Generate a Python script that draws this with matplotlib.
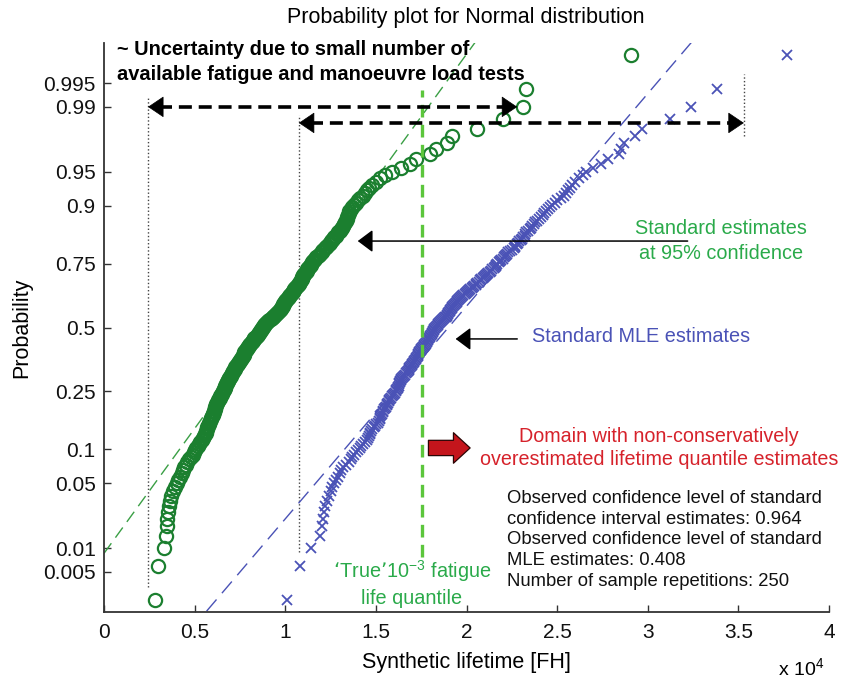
import numpy as np
import matplotlib
matplotlib.use('Agg')
import matplotlib.pyplot as plt
from matplotlib.ticker import NullLocator
from statistics import NormalDist

plt.rcParams['font.family'] = ['Liberation Sans', 'DejaVu Sans']
plt.rcParams['mathtext.default'] = 'regular'

W, H = 844, 682

# ── DATA (synthetic lifetime, x 10^4 FH, sorted) ────────────────────────
conf_est = [
    0.28, 0.30, 0.33, 0.34, 0.345, 0.35, 0.355, 0.36, 0.365, 0.37,
    0.38, 0.39, 0.40, 0.41, 0.42, 0.43, 0.435, 0.44, 0.45, 0.46,
    0.47, 0.48, 0.49, 0.495, 0.50, 0.51, 0.52, 0.525, 0.53, 0.54,
    0.545, 0.55, 0.555, 0.56, 0.565, 0.57, 0.57, 0.575, 0.58, 0.58,
    0.585, 0.59, 0.59, 0.595, 0.60, 0.60, 0.605, 0.605, 0.61, 0.61,
    0.615, 0.62, 0.62, 0.625, 0.63, 0.63, 0.635, 0.64, 0.64, 0.645,
    0.65, 0.65, 0.655, 0.66, 0.66, 0.665, 0.67, 0.67, 0.675, 0.68,
    0.68, 0.685, 0.685, 0.69, 0.69, 0.695, 0.70, 0.70, 0.705, 0.71,
    0.71, 0.715, 0.72, 0.72, 0.725, 0.73, 0.735, 0.74, 0.74, 0.745,
    0.75, 0.75, 0.755, 0.76, 0.76, 0.765, 0.77, 0.77, 0.775, 0.775,
    0.78, 0.785, 0.79, 0.79, 0.795, 0.80, 0.80, 0.805, 0.81, 0.815,
    0.82, 0.82, 0.825, 0.83, 0.835, 0.84, 0.845, 0.85, 0.85, 0.855,
    0.86, 0.86, 0.865, 0.87, 0.87, 0.875, 0.88, 0.885, 0.89, 0.895,
    0.90, 0.905, 0.91, 0.92, 0.925, 0.93, 0.935, 0.94, 0.945, 0.95,
    0.955, 0.96, 0.965, 0.97, 0.975, 0.975, 0.98, 0.985, 0.985, 0.99,
    0.995, 1.00, 1.00, 1.005, 1.01, 1.015, 1.02, 1.02, 1.025, 1.03,
    1.035, 1.04, 1.045, 1.05, 1.05, 1.055, 1.06, 1.065, 1.07, 1.075,
    1.075, 1.08, 1.085, 1.09, 1.09, 1.095, 1.10, 1.10, 1.105, 1.11,
    1.115, 1.12, 1.12, 1.125, 1.13, 1.135, 1.14, 1.14, 1.15, 1.155,
    1.16, 1.165, 1.17, 1.18, 1.185, 1.19, 1.20, 1.205, 1.21, 1.22,
    1.225, 1.23, 1.24, 1.245, 1.25, 1.26, 1.265, 1.27, 1.28, 1.285,
    1.29, 1.30, 1.31, 1.315, 1.32, 1.325, 1.33, 1.335, 1.34, 1.34,
    1.345, 1.35, 1.35, 1.36, 1.37, 1.38, 1.39, 1.40, 1.41, 1.43,
    1.44, 1.45, 1.46, 1.48, 1.50, 1.52, 1.55, 1.59, 1.64, 1.69,
    1.72, 1.80, 1.83, 1.89, 1.92, 2.06, 2.20, 2.31, 2.33, 2.91,
]
mle_est = [
    1.01, 1.08, 1.14, 1.19, 1.20, 1.21, 1.215, 1.22, 1.23, 1.24,
    1.25, 1.26, 1.27, 1.28, 1.29, 1.30, 1.31, 1.32, 1.335, 1.35,
    1.36, 1.37, 1.38, 1.39, 1.40, 1.41, 1.42, 1.43, 1.44, 1.45,
    1.455, 1.46, 1.465, 1.47, 1.475, 1.48, 1.49, 1.495, 1.50, 1.51,
    1.515, 1.52, 1.52, 1.525, 1.53, 1.535, 1.54, 1.54, 1.545, 1.55,
    1.555, 1.56, 1.56, 1.565, 1.57, 1.575, 1.58, 1.585, 1.59, 1.595,
    1.60, 1.605, 1.61, 1.61, 1.615, 1.62, 1.62, 1.625, 1.63, 1.63,
    1.635, 1.635, 1.64, 1.64, 1.645, 1.65, 1.655, 1.66, 1.665, 1.67,
    1.675, 1.68, 1.68, 1.685, 1.69, 1.695, 1.70, 1.70, 1.705, 1.71,
    1.71, 1.715, 1.72, 1.72, 1.725, 1.73, 1.73, 1.735, 1.74, 1.74,
    1.745, 1.75, 1.75, 1.755, 1.76, 1.765, 1.765, 1.77, 1.775, 1.78,
    1.78, 1.785, 1.79, 1.79, 1.795, 1.80, 1.80, 1.805, 1.81, 1.81,
    1.815, 1.815, 1.82, 1.82, 1.825, 1.83, 1.835, 1.84, 1.845, 1.85,
    1.855, 1.86, 1.865, 1.87, 1.875, 1.88, 1.885, 1.89, 1.895, 1.90,
    1.90, 1.905, 1.91, 1.91, 1.915, 1.92, 1.92, 1.925, 1.93, 1.935,
    1.94, 1.945, 1.95, 1.955, 1.96, 1.965, 1.97, 1.975, 1.98, 1.99,
    1.995, 2.00, 2.01, 2.015, 2.02, 2.03, 2.035, 2.04, 2.05, 2.055,
    2.06, 2.07, 2.075, 2.08, 2.09, 2.095, 2.10, 2.11, 2.115, 2.12,
    2.13, 2.135, 2.14, 2.15, 2.155, 2.16, 2.165, 2.17, 2.18, 2.185,
    2.19, 2.20, 2.205, 2.21, 2.22, 2.225, 2.23, 2.24, 2.25, 2.26,
    2.265, 2.27, 2.28, 2.285, 2.29, 2.30, 2.305, 2.31, 2.32, 2.325,
    2.33, 2.34, 2.35, 2.355, 2.36, 2.37, 2.38, 2.39, 2.40, 2.41,
    2.42, 2.43, 2.44, 2.45, 2.46, 2.47, 2.49, 2.50, 2.52, 2.54,
    2.55, 2.56, 2.57, 2.58, 2.60, 2.62, 2.64, 2.66, 2.70, 2.74,
    2.78, 2.84, 2.85, 2.87, 2.93, 2.97, 3.12, 3.24, 3.38, 3.77,
]
# normal reference lines (mu, sigma)
conf_fit = (0.905, 0.380)
mle_fit = (1.90, 0.446)

prob_ticks = [0.005, 0.01, 0.05, 0.1, 0.25, 0.5, 0.75, 0.9, 0.95, 0.99, 0.995]
prob_labels = ['0.005', '0.01', '0.05', '0.1', '0.25', '0.5', '0.75', '0.9', '0.95', '0.99', '0.995']
x_ticks = [0, 0.5, 1, 1.5, 2, 2.5, 3, 3.5, 4]
x_labels = ['0', '0.5', '1', '1.5', '2', '2.5', '3', '3.5', '4']

true_quantile = 1.755

# colours
GREEN_M = '#1b7f2f'
GREEN_T = '#2aaa4a'
GREEN_L = '#3a9f45'
LIME = '#5cc63c'
BLUE = '#4a52b6'
RED = '#d6222b'

_nd = NormalDist()
_ppf = np.vectorize(_nd.inv_cdf, otypes=[float])
_cdf = np.vectorize(_nd.cdf, otypes=[float])


def probit(p):
    p = np.clip(np.asarray(p, dtype=float), 1e-12, 1 - 1e-12)
    return _ppf(p)


def cdf(z):
    return _cdf(np.asarray(z, dtype=float))


def fpos(x, y):
    return x / W, 1 - y / H


fig = plt.figure(figsize=(W / 100, H / 100), dpi=100)
ax = fig.add_axes([104 / W, 1 - 612 / H, 725 / W, 569 / H])
ax.set_yscale('function', functions=(probit, cdf))

# ── reference lines & guides ────────────────────────────────────────────
xl = np.linspace(0, 4, 400)
ax.plot(xl, cdf((xl - conf_fit[0]) / conf_fit[1]), color=GREEN_L, lw=1.0,
        dashes=(9, 5), zorder=2)
ax.plot(xl, cdf((xl - mle_fit[0]) / mle_fit[1]), color=BLUE, lw=1.0,
        dashes=(11, 6), zorder=2)

dot = dict(color='#444444', lw=1.0, linestyle=(0, (1, 1.6)), zorder=1)
ax.plot([0.243, 0.243], [0.0031, 0.9925], **dot)
ax.plot([1.075, 1.075], [0.0089, 0.9875], **dot)
ax.plot([3.53, 3.53], [0.978, 0.9963], **dot)
ax.plot([true_quantile, true_quantile], [0.0078, 0.9939], color=LIME, lw=2.4,
        dashes=(3.8, 2.2), zorder=4)

# ── samples ─────────────────────────────────────────────────────────────
n = len(conf_est)
pp = (np.arange(1, n + 1) - 0.5) / n
ax.plot(conf_est, pp, 'o', mfc='none', mec=GREEN_M, ms=9.5, mew=1.6, zorder=3)
m = len(mle_est)
pm = (np.arange(1, m + 1) - 0.5) / m
ax.plot(mle_est, pm, 'x', color=BLUE, ms=7.5, mew=1.3, zorder=3)

# ── dashed double arrows ────────────────────────────────────────────────
for x0, x1, p in [(0.243, 2.28, 0.99), (1.075, 3.53, 0.9845)]:
    ax.plot([x0 + 0.06, x1 - 0.06], [p, p], color='k', lw=2.6,
            dashes=(3.6, 1.9), zorder=6)
    for tip, off in [(x0, 11), (x1, -11)]:
        ax.annotate('', xy=(tip, p), xytext=(off, 0), textcoords='offset points',
                    arrowprops=dict(arrowstyle='-|>,head_length=0.4,head_width=0.27',
                                    mutation_scale=26, color='k', lw=0.5,
                                    shrinkA=0, shrinkB=0), zorder=7)

# solid pointer arrows
for x0, x1, p in [(3.22, 1.40, 0.819), (2.28, 1.94, 0.452)]:
    ax.annotate('', xy=(x1, p), xytext=(x0, p),
                arrowprops=dict(arrowstyle='-|>,head_length=0.4,head_width=0.3',
                                mutation_scale=23, color='k', lw=1.1,
                                shrinkA=0, shrinkB=0), zorder=7)

# red block arrow
ax.annotate('', xy=(2.02, 0.102), xytext=(1.79, 0.102),
            arrowprops=dict(arrowstyle='simple,head_length=0.6,head_width=1.1,tail_width=0.55',
                            mutation_scale=20, fc='#c4151c', ec='#2a0505', lw=0.9,
                            shrinkA=0, shrinkB=0), zorder=7)

# ── axes styling ────────────────────────────────────────────────────────
ax.set_xlim(0, 4)
ax.set_ylim(cdf(-3.0), cdf(3.0))
ax.set_yticks(prob_ticks)
ax.set_yticklabels(prob_labels)
ax.yaxis.set_minor_locator(NullLocator())
ax.set_xticks(x_ticks)
ax.set_xticklabels(x_labels)
ax.tick_params(direction='in', length=5, width=1.0, labelsize=15, color='#333333',
               labelcolor='#111111')
ax.tick_params(axis='y', pad=6)
ax.tick_params(axis='x', pad=8)
for s in ['top', 'right']:
    ax.spines[s].set_visible(False)
for s in ['left', 'bottom']:
    ax.spines[s].set_linewidth(1.3)
    ax.spines[s].set_color('#333333')

ax.set_xlabel('Synthetic lifetime [FH]', fontsize=15.5, labelpad=7)
ax.set_ylabel('Probability', fontsize=15.5, labelpad=8)

# ── texts ───────────────────────────────────────────────────────────────
fig.text(*fpos(466, 17), 'Probability plot for Normal distribution', fontsize=15.5,
         ha='center', va='center')
fig.text(*fpos(117, 62), '~ Uncertainty due to small number of\n'
         'available fatigue and manoeuvre load tests', fontsize=14.4,
         fontweight='bold', ha='left', va='center', linespacing=1.35)
fig.text(*fpos(721, 241), 'Standard estimates\nat 95% confidence', fontsize=14.3,
         color=GREEN_T, ha='center', va='center', linespacing=1.4)
fig.text(*fpos(532, 336), 'Standard MLE estimates', fontsize=14.3, color=BLUE,
         ha='left', va='center')
fig.text(*fpos(659, 448), 'Domain with non-conservatively\n'
         'overestimated lifetime quantile estimates', fontsize=14.2,
         color=RED, ha='center', va='center', linespacing=1.25)
fig.text(*fpos(507, 540), 'Observed confidence level of standard\n'
         'confidence interval estimates: 0.964\n'
         'Observed confidence level of standard\n'
         'MLE estimates: 0.408\n'
         'Number of sample repetitions: 250', fontsize=13.3, color='#111111',
         ha='left', va='center', linespacing=1.27)
fig.text(*fpos(412, 583), '\u2018True\u201910$^{-3}$ fatigue\nlife quantile',
         fontsize=14.3, color=GREEN_T, ha='center', va='center', linespacing=1.3)
fig.text(*fpos(801, 668), 'x 10$^{4}$', fontsize=14, ha='center', va='center')

fig.savefig('out.png', dpi=100, facecolor='white')
